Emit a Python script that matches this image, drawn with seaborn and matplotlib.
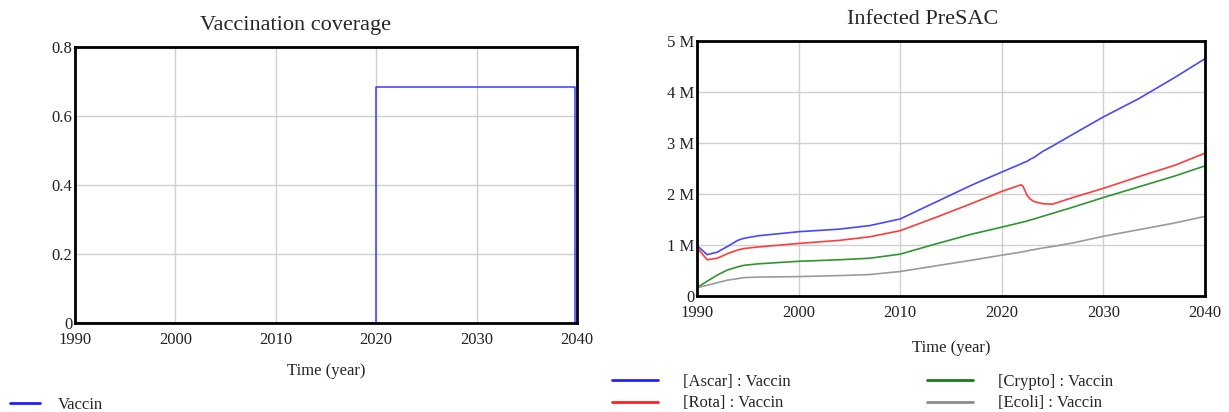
import matplotlib
matplotlib.use("Agg")
import matplotlib.pyplot as plt
import seaborn as sns
import pandas as pd
from matplotlib.ticker import FuncFormatter
from matplotlib.lines import Line2D

# Vaccination coverage (step)
vac_time = [1990, 2020, 2020, 2039.8, 2039.8, 2040]
vac_value = [0, 0, 0.683, 0.683, 0, 0]

# Infected PreSAC (millions)
years = [1990, 1991, 1992, 1993, 1994, 1994.6, 1996, 2000, 2004, 2007, 2010, 2013.5, 2017,
         2020, 2021.9, 2022.1, 2022.5, 2022.8, 2023.2, 2024, 2025, 2027, 2030, 2033.5, 2037, 2040]
ascar = [0.99, 0.81, 0.86, 0.97, 1.09, 1.13, 1.18, 1.26, 1.31, 1.38, 1.51, 1.84, 2.17,
         2.43, 2.59, 2.61, 2.64, 2.68, 2.72, 2.83, 2.94, 3.17, 3.51, 3.87, 4.28, 4.65]
rota = [0.95, 0.71, 0.74, 0.83, 0.90, 0.93, 0.96, 1.03, 1.09, 1.16, 1.28, 1.54, 1.81,
        2.05, 2.18, 2.15, 1.97, 1.90, 1.85, 1.81, 1.80, 1.93, 2.11, 2.34, 2.56, 2.80]
crypto = [0.16, 0.29, 0.41, 0.51, 0.57, 0.60, 0.63, 0.68, 0.71, 0.74, 0.82, 1.02, 1.21,
          1.35, 1.44, 1.45, 1.47, 1.49, 1.51, 1.56, 1.62, 1.74, 1.93, 2.14, 2.35, 2.55]
ecoli = [0.16, 0.21, 0.26, 0.31, 0.34, 0.36, 0.37, 0.38, 0.40, 0.42, 0.48, 0.59, 0.70,
         0.80, 0.86, 0.87, 0.88, 0.90, 0.91, 0.94, 0.97, 1.04, 1.17, 1.30, 1.43, 1.56]

series_names = ["[Ascar] : Vaccin", "[Rota] : Vaccin", "[Crypto] : Vaccin", "[Ecoli] : Vaccin"]
series_colors = ["#4848ff", "#ff3c3c", "#2e962e", "#9a9a9a"]
legend_colors = ["#2020ff", "#ff2020", "#128012", "#8c8c8c"]

sns.set_theme(style="white")
plt.rcParams['font.family'] = ['Liberation Serif', 'DejaVu Serif']

fig = plt.figure(figsize=(12.29, 4.12), dpi=100)
ax1 = fig.add_axes([0.0610, 0.216, 0.4085, 0.670])
ax2 = fig.add_axes([0.5671, 0.2816, 0.4133, 0.619])

df1 = pd.DataFrame({"Time": vac_time, "Value": vac_value})
sns.lineplot(data=df1, x="Time", y="Value", ax=ax1, color="#3a3aff", linewidth=1.1,
             sort=False, estimator=None)

rows = []
for name, vals in zip(series_names, [ascar, rota, crypto, ecoli]):
    for t, v in zip(years, vals):
        rows.append({"Time": t, "Value": v * 1e6, "Series": name})
df2 = pd.DataFrame(rows)
sns.lineplot(data=df2, x="Time", y="Value", hue="Series",
             palette=dict(zip(series_names, series_colors)),
             ax=ax2, linewidth=1.2, estimator=None, legend=False)

for ax, lp in ((ax1, 11), (ax2, 14)):
    ax.set_xlim(1990, 2040)
    ax.set_xticks([1990, 2000, 2010, 2020, 2030, 2040])
    ax.grid(True, color="#d0d0d0", linewidth=1.0)
    ax.set_axisbelow(True)
    for s in ax.spines.values():
        s.set_color("black")
        s.set_linewidth(2)
    ax.tick_params(axis="both", length=0, labelsize=12, colors="#222222")
    ax.tick_params(axis="x", pad=6.5)
    ax.tick_params(axis="y", pad=2)
    ax.set_xlabel("Time (year)", fontsize=12, labelpad=lp)
    ax.set_ylabel("")

ax1.set_ylim(0, 0.8)
ax1.set_yticks([0, 0.2, 0.4, 0.6, 0.8])
ax1.yaxis.set_major_formatter(FuncFormatter(lambda v, p: "0" if v == 0 else f"{v:.1f}"))
ax1.set_title("Vaccination coverage", fontsize=16, pad=12, x=0.440)

ax2.set_ylim(0, 5e6)
ax2.set_yticks([0, 1e6, 2e6, 3e6, 4e6, 5e6])
ax2.yaxis.set_major_formatter(FuncFormatter(lambda v, p: "0" if v == 0 else f"{int(round(v/1e6))} M"))
ax2.set_title("Infected PreSAC", fontsize=16, pad=12.5, x=0.445)

h1 = [Line2D([], [], color="#2020ff", linewidth=2)]
fig.legend(h1, ["Vaccin"], loc="upper left", bbox_to_anchor=(0.008, 0.036), frameon=False,
           fontsize=12, handlelength=1.8, handletextpad=1.08, borderpad=0, borderaxespad=0)

hs = [Line2D([], [], color=c, linewidth=2) for c in legend_colors]
fig.legend(hs, series_names, loc="upper left",
           bbox_to_anchor=(0.498, 0.093), ncol=2, frameon=False, fontsize=12,
           handlelength=2.75, handletextpad=1.5, columnspacing=8.2, labelspacing=0.34,
           borderpad=0, borderaxespad=0)

fig.savefig("out.png", dpi=100)
